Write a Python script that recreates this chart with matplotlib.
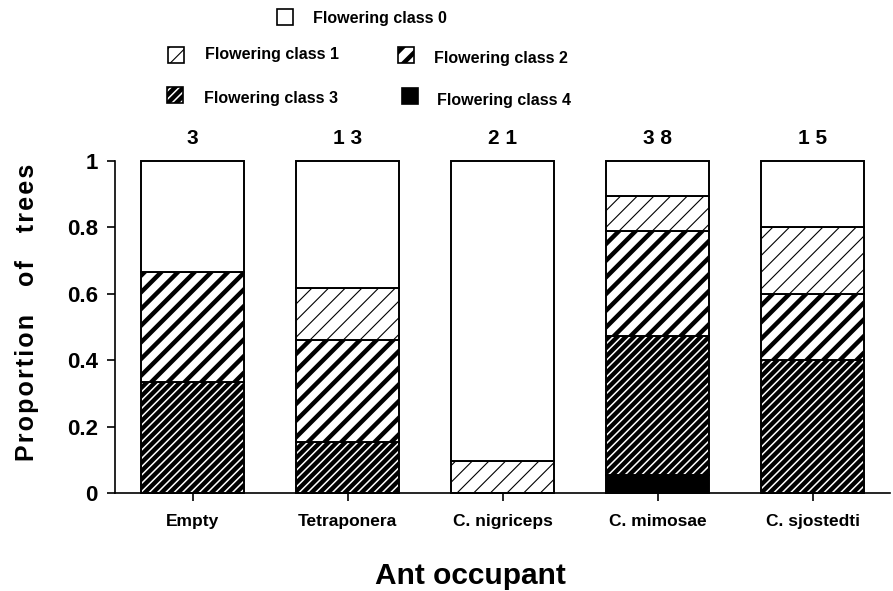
import matplotlib
matplotlib.use("Agg")
import matplotlib.pyplot as plt
from matplotlib.patches import Rectangle

plt.rcParams['font.family'] = ['Liberation Sans', 'DejaVu Sans']
plt.rcParams['font.weight'] = 'bold'

occupants = ['Empty', 'Tetraponera', 'C. nigriceps', 'C. mimosae', 'C. sjostedti']
n_trees = [3, 13, 21, 38, 15]
# proportion of trees in each flowering class (class 4 at bottom, class 0 on top)
class4 = [0.0, 0.0, 0.0, 0.053, 0.0]
class3 = [0.333, 0.154, 0.0, 0.421, 0.400]
class2 = [0.333, 0.308, 0.0, 0.316, 0.200]
class1 = [0.0, 0.154, 0.095, 0.105, 0.200]
class0 = [0.334, 0.384, 0.905, 0.105, 0.200]

# bottom-to-top order: (label, values, facecolor, hatch, hatch colour, hatch lw)
layers = [
    ('Flowering class 4', class4, 'black', None, 'black', 1.0),
    ('Flowering class 3', class3, 'black', '////', 'white', 1.1),
    ('Flowering class 2', class2, 'white', '//', 'black', 3.2),
    ('Flowering class 1', class1, 'white', '//', 'black', 0.8),
    ('Flowering class 0', class0, 'white', None, 'black', 1.0),
]

fig = plt.figure(figsize=(8.93, 5.91), dpi=100)
ax = fig.add_axes([0.1288, 0.1658, 0.868, 0.5618])

x = list(range(len(occupants)))
bottom = [0.0] * len(occupants)
for label, vals, fc, hatch, hc, hlw in layers:
    plt.rcParams['hatch.linewidth'] = hlw
    # fill + hatch (hatch colour follows the edge colour), then a black outline on top
    bars = ax.bar(x, vals, width=0.665, bottom=bottom, color=fc, edgecolor=hc,
                  linewidth=0, hatch=hatch, clip_on=False)
    for b in bars:
        if hasattr(b, 'set_hatch_linewidth'):
            b.set_hatch_linewidth(hlw)
    ax.bar(x, vals, width=0.665, bottom=bottom, fill=False, edgecolor='black',
           linewidth=1.4, clip_on=False)
    bottom = [bo + v for bo, v in zip(bottom, vals)]

for xi, n in zip(x, n_trees):
    ax.annotate(' '.join(str(n)), (xi, 1.0), xytext=(0, 9), textcoords='offset points',
                ha='center', va='bottom', fontsize=15, fontweight='bold')

ax.set_xlim(-0.5, 4.5)
ax.set_ylim(0, 1)
ax.set_xticks(x)
ax.set_xticklabels(occupants, fontsize=12.5, fontweight='bold')
ax.set_yticks([0, 0.2, 0.4, 0.6, 0.8, 1])
ax.set_yticklabels(['0', '0.2', '0.4', '0.6', '0.8', '1'], fontsize=16, fontweight='bold')
ax.tick_params(axis='both', direction='out', length=6, width=1.2, color='black')
ax.tick_params(axis='x', pad=9)
ax.tick_params(axis='y', pad=6.5)
ax.spines['top'].set_visible(False)
ax.spines['right'].set_visible(False)
ax.spines['left'].set_linewidth(1.2)
ax.spines['bottom'].set_linewidth(1.2)

# the original y label is slightly letter-spaced with wide word gaps
ylab = '    '.join('\u200a'.join(w) for w in ['Proportion', 'of', 'trees'])
ax.set_ylabel(ylab, fontsize=18, fontweight='bold')
ax.yaxis.set_label_coords(-0.098, 0.545)
ax.set_xlabel('Ant occupant', fontsize=21.5, fontweight='bold')
ax.xaxis.set_label_coords(0.459, -0.208)

# hand-placed legend like the original figure
W, H = 893.0, 591.0
legend_pos = {
    'Flowering class 0': (277, 9, 313, 18),
    'Flowering class 1': (168, 47, 205, 54),
    'Flowering class 2': (398, 47, 434, 58),
    'Flowering class 3': (167, 87, 204, 99),
    'Flowering class 4': (402, 88, 437, 100),
}
for label, vals, fc, hatch, hc, hlw in layers:
    bx, by, tx, ty = legend_pos[label]
    plt.rcParams['hatch.linewidth'] = hlw
    box = ((bx / W, 1 - (by + 16) / H), 16 / W, 16 / H)
    r = Rectangle(*box, transform=fig.transFigure, facecolor=fc, edgecolor=hc,
                  linewidth=0, hatch=hatch)
    if hasattr(r, 'set_hatch_linewidth'):
        r.set_hatch_linewidth(hlw)
    fig.patches.append(r)
    fig.patches.append(Rectangle(*box, transform=fig.transFigure, fill=False,
                                 edgecolor='black', linewidth=1.2))
    fig.text(tx / W, 1 - ty / H, label, fontsize=11.5, fontweight='bold', va='center', ha='left')

fig.savefig('out.png', dpi=100)
